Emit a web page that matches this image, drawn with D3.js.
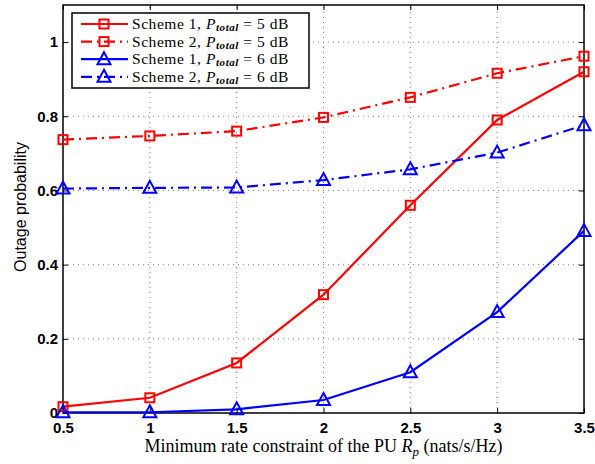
<!DOCTYPE html>
<html>
<head>
<meta charset="utf-8">
<script src="https://cdn.jsdelivr.net/npm/d3@7"></script>
<style>
  body { margin: 0; background: #fff; }
  svg { display: block; }
</style>
</head>
<body>
<div id="chart"></div>
<script>
// DATA
const rates = [0.5, 1, 1.5, 2, 2.5, 3, 3.5];
const s1p5 = [0.017, 0.041, 0.135, 0.319, 0.56, 0.79, 0.92];
const s2p5 = [0.737, 0.747, 0.760, 0.797, 0.851, 0.916, 0.962];
const s1p6 = [0.002, 0.002, 0.010, 0.035, 0.110, 0.272, 0.491];
const s2p6 = [0.605, 0.607, 0.608, 0.628, 0.657, 0.702, 0.776];
const xTicks = [0.5, 1, 1.5, 2, 2.5, 3, 3.5];
const yTicks = [0, 0.2, 0.4, 0.6, 0.8, 1];

const series = [
	{ values: s1p5, color: "#ff0000", dash: null, marker: "square", scheme: "1", p: "5" },
	{ values: s2p5, color: "#ff0000", dash: "11,5,2,5", marker: "square", scheme: "2", p: "5" },
	{ values: s1p6, color: "#0000ff", dash: null, marker: "triangle", scheme: "1", p: "6" },
	{ values: s2p6, color: "#0000ff", dash: "11,5,2,5", marker: "triangle", scheme: "2", p: "6" },
];

//DIMENSIONS
const width = 595,
	height = 464,
	margin = { left: 63, right: 11, top: 5, bottom: 51 };

const svg = d3
	.select("#chart")
	.append("svg")
	.attr("width", width)
	.attr("height", height);

const x = d3
	.scaleLinear()
	.domain([0.5, 3.5])
	.range([margin.left, width - margin.right]);
const y = d3
	.scaleLinear()
	.domain([0, 1.1])
	.range([height - margin.bottom, margin.top]);

const x0 = x.range()[0],
	x1 = x.range()[1],
	y0 = y.range()[0],
	y1 = y.range()[1];

//GRID
const grid = svg.append("g").attr("stroke", "#666").attr("stroke-width", 0.8).attr("stroke-dasharray", "1,4");
grid
	.selectAll("line.gx")
	.data(xTicks.slice(1, -1))
	.enter()
	.append("line")
	.attr("x1", d => x(d))
	.attr("x2", d => x(d))
	.attr("y1", y0)
	.attr("y2", y1);
grid
	.selectAll("line.gy")
	.data(yTicks.slice(1))
	.enter()
	.append("line")
	.attr("y1", d => y(d))
	.attr("y2", d => y(d))
	.attr("x1", x0)
	.attr("x2", x1);

//AXES (ticks inward, box on)
const fontTick = "'Liberation Sans', Arial, sans-serif";
const serif = "'Liberation Serif', 'Times New Roman', serif";
const xAxis = svg
	.append("g")
	.attr("transform", `translate(0,${y0})`)
	.call(d3.axisBottom(x).tickValues(xTicks).tickSize(-5).tickPadding(9).tickFormat(d3.format("")));
const yAxis = svg
	.append("g")
	.attr("transform", `translate(${x0},0)`)
	.call(d3.axisLeft(y).tickValues(yTicks).tickSize(-5).tickPadding(5).tickFormat(d3.format("")));
svg
	.append("g")
	.attr("transform", `translate(0,${y1})`)
	.call(d3.axisTop(x).tickValues(xTicks).tickSize(-5).tickFormat(""));
svg
	.append("g")
	.attr("transform", `translate(${x1},0)`)
	.call(d3.axisRight(y).tickValues(yTicks).tickSize(-5).tickFormat(""));

svg.selectAll(".domain").remove();
svg.selectAll(".tick line").attr("stroke", "#000").attr("stroke-width", 1);
[xAxis, yAxis].forEach(a =>
	a
		.selectAll("text")
		.style("font-family", fontTick)
		.style("font-size", "15px")
		.style("font-weight", "bold")
		.attr("fill", "#000")
);

svg
	.append("rect")
	.attr("x", x0)
	.attr("y", y1)
	.attr("width", x1 - x0)
	.attr("height", y0 - y1)
	.attr("fill", "none")
	.attr("stroke", "#000")
	.attr("stroke-width", 1.5);

//LABELS
svg
	.append("text")
	.attr("transform", `translate(26,207) rotate(-90)`)
	.attr("text-anchor", "middle")
	.style("font-family", fontTick)
	.style("font-size", "16px")
	.text("Outage probability");

const xl = svg
	.append("text")
	.attr("x", (x0 + x1) / 2)
	.attr("y", 452)
	.attr("text-anchor", "middle")
	.style("font-family", serif)
	.style("font-size", "18px");
xl.append("tspan").text("Minimum rate constraint of the PU ");
xl.append("tspan").style("font-style", "italic").text("R");
xl.append("tspan").attr("dy", 4).style("font-size", "13px").style("font-style", "italic").text("p");
xl.append("tspan").attr("dy", -4).text(" (nats/s/Hz)");

//MARKERS
function drawMarker(g, type, color) {
	if (type === "square") {
		g.append("rect")
			.attr("x", -4.5)
			.attr("y", -4.5)
			.attr("width", 9)
			.attr("height", 9)
			.attr("fill", "none")
			.attr("stroke", color)
			.attr("stroke-width", 2);
	} else {
		g.append("path")
			.attr("d", "M0,-7 L6.5,5 L-6.5,5 Z")
			.attr("fill", "none")
			.attr("stroke", color)
			.attr("stroke-width", 2);
	}
}

//LINES
const line = d3
	.line()
	.x((d, i) => x(rates[i]))
	.y(d => y(d));

const plot = svg.append("g");
series.forEach(s => {
	plot
		.append("path")
		.datum(s.values)
		.attr("d", line)
		.attr("fill", "none")
		.attr("stroke", s.color)
		.attr("stroke-width", 2.2)
		.attr("stroke-dasharray", s.dash);
	s.values.forEach((v, i) => {
		const g = plot.append("g").attr("transform", `translate(${x(rates[i])},${y(v)})`);
		drawMarker(g, s.marker, s.color);
	});
});

//LEGEND
const legend = svg.append("g").attr("transform", "translate(72,13)");
legend
	.append("rect")
	.attr("width", 237)
	.attr("height", 75)
	.attr("fill", "#fff")
	.attr("stroke", "#000")
	.attr("stroke-width", 1.5);

const legendItem = legend
	.selectAll(".legend-item")
	.data(series)
	.enter()
	.append("g")
	.attr("class", "legend-item")
	.attr("transform", (d, i) => `translate(0, ${11 + i * 17.6})`);

legendItem
	.append("line")
	.attr("x1", 9)
	.attr("x2", 56)
	.attr("stroke", d => d.color)
	.attr("stroke-width", 2.2)
	.attr("stroke-dasharray", d => d.dash);
legendItem.each(function (d) {
	const g = d3.select(this).append("g").attr("transform", "translate(32,0)");
	drawMarker(g, d.marker, d.color);
});

const lt = legendItem
	.append("text")
	.attr("x", 60)
	.attr("dy", "0.33em")
	.style("font-family", serif)
	.style("font-size", "15.5px")
	.style("letter-spacing", "0.55px");
lt.append("tspan").text(d => `Scheme ${d.scheme}, `);
lt.append("tspan").style("font-style", "italic").text("P");
lt.append("tspan").attr("dy", 2).style("font-style", "italic").style("font-size", "11px").style("font-weight", "bold").text("total");
lt.append("tspan").attr("dy", -2).text(d => ` = ${d.p} dB`);
</script>
</body>
</html>
